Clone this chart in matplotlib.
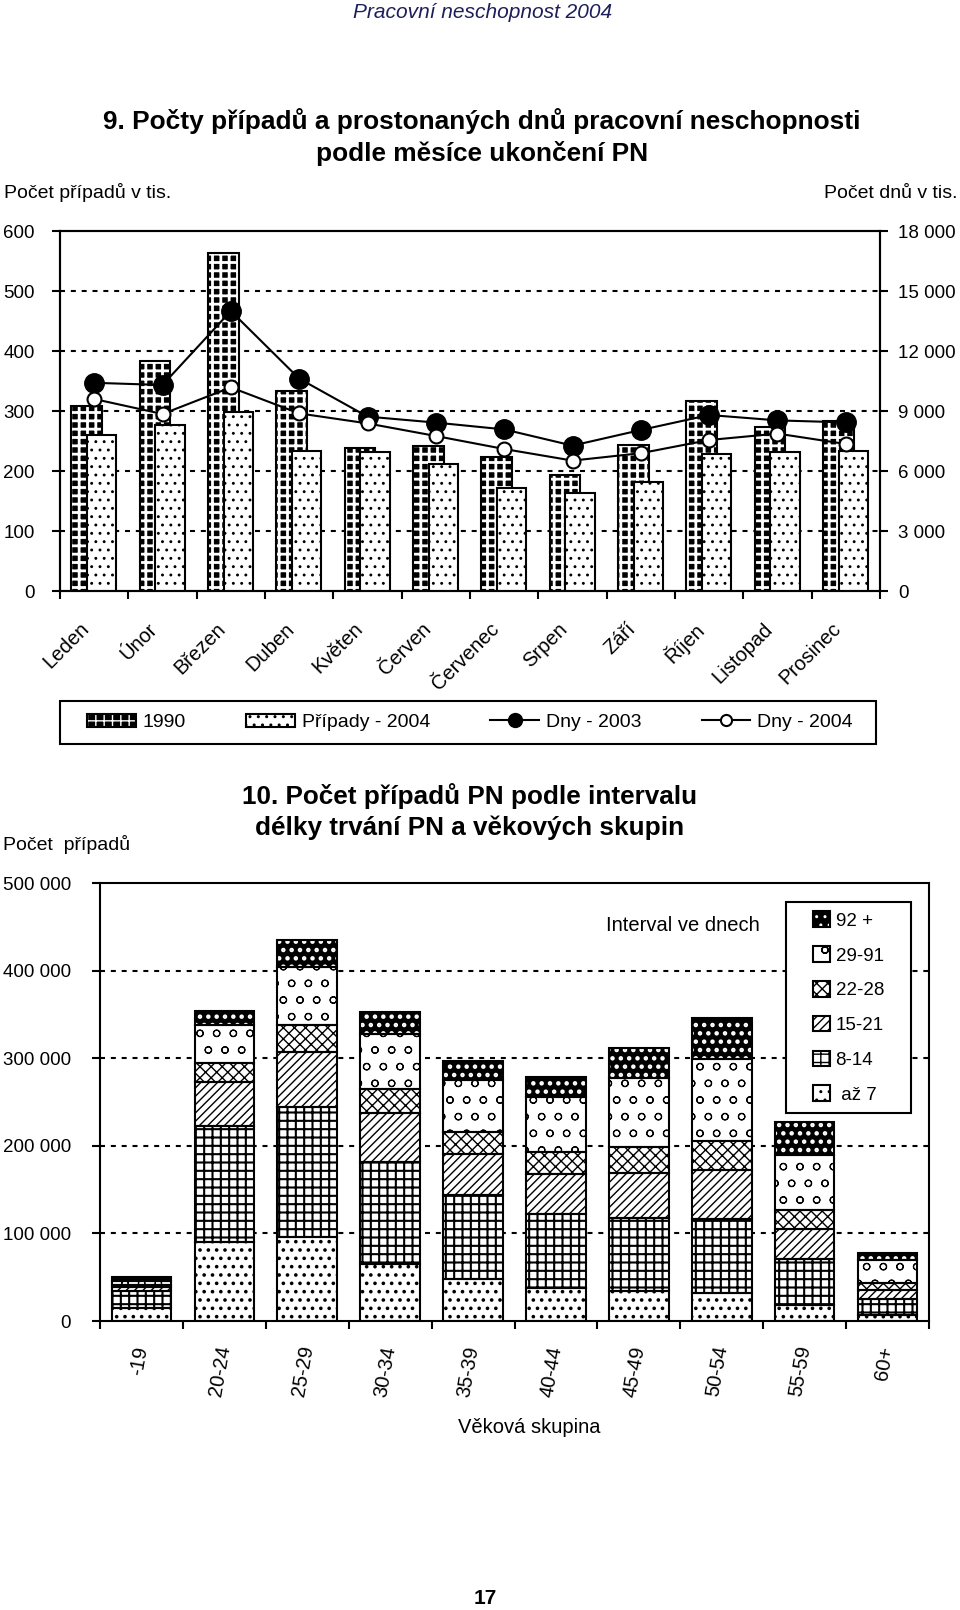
import numpy as np
import matplotlib
matplotlib.use("Agg")
import matplotlib.pyplot as plt
from matplotlib.patches import Patch, Rectangle
from matplotlib.lines import Line2D
from matplotlib.ticker import FuncFormatter, FixedLocator
from matplotlib.transforms import ScaledTranslation

plt.rcParams['font.family'] = ['Liberation Sans', 'DejaVu Sans']

# --- data: graf 9 ---
mesice = ['Leden', 'Únor', 'Březen', 'Duben', 'Květen', 'Červen',
          'Červenec', 'Srpen', 'Září', 'Říjen', 'Listopad', 'Prosinec']
pripady_1990 = [309, 384, 563, 333, 239, 241, 223, 194, 244, 317, 273, 284]   # tis.
pripady_2004 = [260, 277, 298, 233, 231, 211, 172, 163, 182, 228, 232, 234]   # tis.
dny_2003 = [10410, 10300, 14000, 10620, 8720, 8420, 8080, 7270, 8050, 8800, 8530, 8430]  # tis.
dny_2004 = [9600, 8850, 10180, 8880, 8380, 7750, 7100, 6520, 6890, 7550, 7870, 7350]     # tis.

# --- data: graf 10 ---
skupiny = ['-19', '20-24', '25-29', '30-34', '35-39', '40-44', '45-49', '50-54', '55-59', '60+']
intervaly = ['až 7', '8-14', '15-21', '22-28', '29-91', '92 +']
az7 = [15000, 90500, 96200, 64600, 47900, 38000, 34200, 31600, 18200, 6800]
d8_14 = [19500, 132300, 148300, 117100, 95800, 83700, 82900, 84400, 52100, 17900]
d15_21 = [4500, 50200, 62700, 55200, 46400, 45600, 51300, 56200, 34300, 10700]
d22_28 = [2500, 22000, 30400, 27700, 25100, 25100, 29700, 33100, 22000, 7600]
d29_91 = [4500, 43400, 66500, 63500, 59700, 63500, 79800, 93500, 62700, 26600]
d92 = [4500, 15200, 30500, 24700, 21700, 23200, 33900, 47200, 37700, 7600]

W, H = 960, 1610
def fx(p): return p / W
def fy(p): return 1 - p / H

def mezera(v, pos=None):
    return f"{int(round(v)):,}".replace(',', ' ')

def hlw(p, lw):
    if hasattr(p, 'set_hatch_linewidth'):
        p.set_hatch_linewidth(lw)

fig = plt.figure(figsize=(9.6, 16.1), dpi=100)
fig.patch.set_facecolor('white')

fig.text(fx(483), fy(12), 'Pracovní neschopnost 2004', ha='center', va='center',
         fontsize=15, style='italic', color='#1e1e5a')
fig.text(fx(482), fy(121), '9. Počty případů a prostonaných dnů pracovní neschopnosti',
         ha='center', va='center', fontsize=18.9, fontweight='bold')
fig.text(fx(482), fy(154), 'podle měsíce ukončení PN',
         ha='center', va='center', fontsize=18.9, fontweight='bold')
fig.text(fx(4), fy(193), 'Počet případů v tis.', ha='left', va='center', fontsize=14)
fig.text(fx(958), fy(193), 'Počet dnů v tis.', ha='right', va='center', fontsize=14)

# ---------------- graf 9 ----------------
ax1 = fig.add_axes([fx(60), fy(591), 820 / W, 360 / H])
x = np.arange(len(mesice))
for i in range(len(x)):
    b = ax1.bar(x[i] - 0.11, pripady_1990[i], 0.45, facecolor='black', edgecolor='white',
                hatch='++', linewidth=0, zorder=2)[0]
    hlw(b, 2.0)
ax1.bar(x - 0.11, pripady_1990, 0.45, fill=False, edgecolor='black', linewidth=1.5, zorder=2.1)
bars = ax1.bar(x + 0.11, pripady_2004, 0.43, facecolor='white', edgecolor='black',
               hatch='..', linewidth=1.5, zorder=3)
for b in bars:
    hlw(b, 0.9)
for v in [100, 200, 300, 400, 500]:
    ax1.axhline(v, color='black', lw=1.5, ls=(0, (2.4, 2.8)), zorder=1)
ax1.set_xlim(-0.5, 11.5)
ax1.set_ylim(0, 600)
ax1.yaxis.set_major_locator(FixedLocator([0, 100, 200, 300, 400, 500, 600]))
ax1.tick_params(axis='y', length=6, width=1.5, pad=12, labelsize=13.5)
ax1.xaxis.set_major_locator(FixedLocator(x))
ax1.xaxis.set_minor_locator(FixedLocator(np.arange(-0.5, 12, 1)))
ax1.set_xticklabels(mesice, rotation=45, ha='right', va='center', rotation_mode='anchor',
                    fontsize=14.5)
ax1.tick_params(axis='x', which='major', length=0, pad=23)
ax1.tick_params(axis='x', which='minor', length=6, width=1.5)
posun = ScaledTranslation(-0.08, -0.03, fig.dpi_scale_trans)
for t in ax1.get_xticklabels():
    t.set_transform(t.get_transform() + posun)
for s in ax1.spines.values():
    s.set_linewidth(1.5)

ax2 = ax1.twinx()
ax2.plot(x, dny_2003, color='black', lw=1.5, marker='o', ms=14, mfc='black', zorder=5)
ax2.plot(x, dny_2004, color='black', lw=1.5, marker='o', ms=10, mfc='white',
         mec='black', mew=1.5, zorder=6)
ax2.set_ylim(0, 18000)
ax2.yaxis.set_major_locator(FixedLocator(np.arange(0, 18001, 3000)))
ax2.yaxis.set_major_formatter(FuncFormatter(mezera))
ax2.tick_params(axis='y', length=6, width=1.5, pad=7, labelsize=13.5)
for s in ax2.spines.values():
    s.set_linewidth(1.5)

# legenda grafu 9
fig.patches.append(Rectangle((fx(60), fy(744)), 816 / W, 43 / H, transform=fig.transFigure,
                             facecolor='white', edgecolor='black', lw=1.5, zorder=0))
p1 = Patch(facecolor='black', edgecolor='white', hatch='++', lw=0)
hlw(p1, 2.0)
p1b = Patch(facecolor='none', edgecolor='black', lw=1.5)
p2 = Patch(facecolor='white', edgecolor='black', hatch='..', lw=1.5)
hlw(p2, 0.9)
l3 = Line2D([], [], color='black', lw=1.5, marker='o', ms=10, mfc='black')
l4 = Line2D([], [], color='black', lw=1.5, marker='o', ms=8, mfc='white', mec='black', mew=1.5)
fig.legend([(p1, p1b), p2, l3, l4], ['1990', 'Případy - 2004', 'Dny - 2003', 'Dny - 2004'],
           loc='center', bbox_to_anchor=(fx(470), fy(722.5)), ncol=4, frameon=False,
           fontsize=14, handlelength=2.5, handleheight=0.72, handletextpad=0.35,
           columnspacing=3.1)

# ---------------- graf 10 ----------------
fig.text(fx(470), fy(796), '10. Počet případů PN podle intervalu', ha='center', va='center',
         fontsize=18.8, fontweight='bold')
fig.text(fx(470), fy(828), 'délky trvání PN a věkových skupin', ha='center', va='center',
         fontsize=18.8, fontweight='bold')
fig.text(fx(3), fy(844), 'Počet  případů', ha='left', va='center', fontsize=14)

ax3 = fig.add_axes([fx(100), fy(1321), 829 / W, 438 / H])
xs = np.arange(len(skupiny))
vrstvy = [az7, d8_14, d15_21, d22_28, d29_91, d92]
vzory = ['..', '++', '////', 'xxx', 'o', '..']
tloustky = [1.4, 1.5, 1.0, 1.0, 0.8, 2.0]
spodek = np.zeros(len(skupiny))
for k, (hodn, vz, tl) in enumerate(zip(vrstvy, vzory, tloustky)):
    if k == 5:
        bb = ax3.bar(xs, hodn, 0.72, bottom=spodek, facecolor='black', edgecolor='white',
                     hatch=vz, linewidth=0, zorder=2)
    else:
        bb = ax3.bar(xs, hodn, 0.72, bottom=spodek, facecolor='white', edgecolor='black',
                     hatch=vz, linewidth=0, zorder=2)
    for b in bb:
        hlw(b, tl)
    ax3.bar(xs, hodn, 0.72, bottom=spodek, fill=False, edgecolor='black', linewidth=1.5,
            zorder=3)
    spodek = spodek + np.array(hodn)
for v in [100000, 200000, 300000, 400000]:
    ax3.axhline(v, color='black', lw=1.5, ls=(0, (2.4, 2.8)), zorder=1)
ax3.set_xlim(-0.5, 9.5)
ax3.set_ylim(0, 500000)
ax3.yaxis.set_major_locator(FixedLocator(np.arange(0, 500001, 100000)))
ax3.yaxis.set_major_formatter(FuncFormatter(mezera))
ax3.tick_params(axis='y', length=6, width=1.5, pad=15, labelsize=13.5)
ax3.xaxis.set_major_locator(FixedLocator(xs))
ax3.xaxis.set_minor_locator(FixedLocator(np.arange(-0.5, 10, 1)))
ax3.set_xticklabels(skupiny, rotation=80, ha='right', va='center', rotation_mode='anchor',
                    fontsize=14.5)
ax3.tick_params(axis='x', which='major', length=0, pad=18)
ax3.tick_params(axis='x', which='minor', length=6, width=1.5)
for s in ax3.spines.values():
    s.set_linewidth(1.5)

fig.text(fx(683), fy(925), 'Interval ve dnech', ha='center', va='center', fontsize=14.5)
fig.text(fx(529), fy(1427), 'Věková skupina', ha='center', va='center', fontsize=14.5)

# legenda grafu 10
fig.patches.append(Rectangle((fx(786), fy(1113)), 125 / W, 211 / H, transform=fig.transFigure,
                             facecolor='white', edgecolor='black', lw=1.5, zorder=5))
lh = []
for k in [5, 4, 3, 2, 1, 0]:
    if k == 5:
        p = Patch(facecolor='black', edgecolor='white', hatch=vzory[k], lw=0)
    else:
        p = Patch(facecolor='white', edgecolor='black', hatch=vzory[k], lw=0)
    hlw(p, tloustky[k])
    lh.append((p, Patch(facecolor='none', edgecolor='black', lw=1.5)))
popisky = ['92 +', '29-91', '22-28', '15-21', '8-14', ' až 7']
leg = fig.legend(lh, popisky, loc='center', bbox_to_anchor=(fx(848.5), fy(1007.5)),
                 frameon=False, fontsize=13.5, handlelength=0.9, handleheight=0.9,
                 handletextpad=0.3, labelspacing=0.88)
leg.set_zorder(6)

fig.text(fx(485), fy(1598), '17', ha='center', va='center', fontsize=15, fontweight='bold')

fig.savefig('out.png', dpi=100)
